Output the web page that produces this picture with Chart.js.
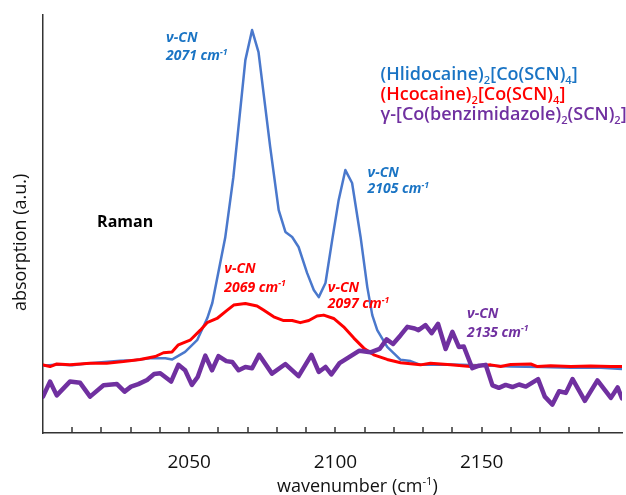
<!DOCTYPE html>
<html><head><meta charset="utf-8">
<script src="https://cdn.jsdelivr.net/npm/chart.js@4.4.0/dist/chart.umd.min.js"></script>
<style>html,body{margin:0;padding:0;background:#fff}</style>
</head><body>
<canvas id="c" width="626" height="495"></canvas>
<script>
// ---- data (wavenumber cm-1, absorption a.u.) ----
const wnBlue = [2000,2005,2010,2015,2020,2026.4,2031,2036.6,2041.8,2044.2,2048.6,2052.7,2056.2,2057.9,2062.3,2065.1,2069.2,2071.5,2073.7,2077.7,2080.6,2082.9,2085.2,2087.4,2090.3,2092.6,2094.3,2096.6,2098.9,2101.1,2103.4,2105.7,2108.6,2110.9,2112.6,2114.3,2117.7,2122.3,2125.7,2129.1,2139.4,2149.7,2159.9,2170.2,2180.5,2190.8,2198];
const absBlue = [16.1,16.4,16.2,16.6,16.9,17.3,17.4,17.9,17.9,17.6,19.4,22.2,27.5,31.1,46.7,61.2,89.2,96.4,91.1,68.4,53.3,48.1,46.9,44.5,38.3,34.2,32.5,35.9,46.2,55.7,62.9,59.8,46.9,34.9,28.2,24.6,20.6,17.5,17.2,16.3,16.4,16.2,15.9,15.8,15.6,15.6,15.3];

const wnRed = [2000,2002.4,2004.7,2009.2,2016.1,2021.8,2027.5,2033.2,2038.4,2041.2,2044.1,2046.3,2050.3,2053.8,2056.1,2059.5,2062.7,2065.2,2069.2,2073.2,2075.4,2078.9,2082.3,2085.2,2088.0,2090.9,2093.7,2096.0,2099.4,2102.8,2106.3,2109.7,2113.1,2117.7,2122.3,2129.1,2132.5,2139.4,2146.2,2153.1,2156.5,2159.9,2166.8,2169.1,2173.6,2180.5,2187.3,2194.2,2198];
const absRed = [16.3,15.9,16.5,16.3,16.7,16.7,17.1,17.6,18.3,19.2,19.4,21.1,22.2,24.6,26.4,27.4,29.2,30.6,31.0,30.4,29.4,27.8,26.9,26.9,26.4,26.9,28.0,28.2,27.4,25.4,22.7,20.3,18.7,17.6,16.8,16.3,16.7,16.3,15.9,16.3,15.9,16.4,16.5,15.9,16.1,15.9,16.0,15.9,15.9];

const wnPurple = [2000,2002.4,2004.7,2009.2,2012.7,2016.1,2020.7,2025.3,2027.9,2030.1,2032.6,2035.6,2038.0,2040.1,2043.8,2046.3,2048.6,2050.9,2052.9,2055.5,2057.8,2060.0,2062.7,2064.7,2066.9,2069.2,2071.5,2073.9,2078.3,2082.9,2087.4,2091.8,2094.3,2096.6,2098.6,2101.4,2104.8,2108.2,2112.0,2115.1,2117.5,2119.7,2122.3,2124.6,2127.1,2128.4,2130.8,2132.9,2135.1,2137.7,2140.0,2142.2,2143.9,2146.8,2149.1,2151.4,2153.7,2155.9,2158.2,2160.5,2162.8,2165.1,2169.3,2171.6,2174.2,2176.5,2178.8,2181.1,2185.3,2189.6,2194.2,2196.5,2198];
const absPurple = [8.7,12.3,9.0,12.3,12.0,8.7,11.4,11.7,9.9,11.1,11.7,12.7,14.1,14.3,12.3,16.3,15.0,11.5,13.4,18.5,15.0,18.4,17.2,17.0,15.0,15.8,15.5,18.7,14.2,16.5,13.6,18.7,14.6,15.8,14.0,16.7,18.2,19.7,19.3,20.1,22.4,21.3,23.4,25.4,25.0,24.6,25.8,23.9,26.1,20.1,24.2,20.6,20.7,15.5,16.1,16.3,11.4,10.8,11.5,11.0,11.6,11.1,12.9,8.7,6.8,10.0,9.6,12.9,7.7,12.6,8.4,10.9,8.3];

const seriesNames = ['(Hlidocaine)2[Co(SCN)4]','(Hcocaine)2[Co(SCN)4]','γ-[Co(benzimidazole)2(SCN)2]'];
const xTickLabels = [2050, 2100, 2150];

const pts = (xs, ys) => xs.map((x, i) => ({x, y: ys[i]}));

// ---- text annotations (anchored in data coordinates) ----
const C_BLUE_T = '#1a74c4', C_RED = '#ff0000', C_PURPLE = '#7030a0';
const notes = [
  {x:2042.1, y:94.7, dy:18, color:C_BLUE_T, lines:[[['ν-CN']],[['2071 cm'],['-1','sup']]]},
  {x:2111.0, y:62.4, dy:16, color:C_BLUE_T, lines:[[['ν-CN']],[['2105 cm'],['-1','sup']]]},
  {x:2062.0, y:39.5, dy:19, color:C_RED, lines:[[['ν-CN']],[['2069 cm'],['-1','sup']]]},
  {x:2097.4, y:34.9, dy:16, color:C_RED, lines:[[['ν-CN']],[['2097 cm'],['-1','sup']]]},
  {x:2145.0, y:28.7, dy:19, color:C_PURPLE, lines:[[['ν-CN']],[['2135 cm'],['-1','sup']]]}
];
const legendRows = [
  {color:'#1a74c4', segs:[['(Hlidocaine)'],['2','sub'],['[Co(SCN)'],['4','sub'],[']']]},
  {color:C_RED, segs:[['(Hcocaine)'],['2','sub'],['[Co(SCN)'],['4','sub'],[']']]},
  {color:C_PURPLE, segs:[['γ-[Co(benzimidazole)'],['2','sub'],['(SCN)'],['2','sub'],[']']]}
];

function drawRich(ctx, segs, x, y, size, weight, style, align) {
  const fam = '"Open Sans", "DejaVu Sans", sans-serif';
  const f = (s) => `${style} ${weight} ${s}px ${fam}`;
  let total = 0;
  segs.forEach(([t, m]) => { ctx.font = f(m ? size * 0.62 : size); total += ctx.measureText(t).width; });
  let cx = align === 'center' ? x - total / 2 : x;
  ctx.textAlign = 'left';
  ctx.textBaseline = 'alphabetic';
  segs.forEach(([t, m]) => {
    const s = m ? size * 0.62 : size;
    ctx.font = f(s);
    const off = m === 'sub' ? size * 0.22 : (m === 'sup' ? -size * 0.4 : 0);
    ctx.fillText(t, cx, y + off);
    cx += ctx.measureText(t).width;
  });
}

const textPlugin = {
  id: 'texts',
  afterDraw(chart) {
    const {ctx, scales: {x, y}, chartArea} = chart;
    ctx.save();
    // inward tick marks
    ctx.strokeStyle = '#333'; ctx.lineWidth = 1.5;
    x.ticks.forEach(t => {
      if (t.value <= x.min + 0.5 || t.value >= x.max - 0.5) return;
      const px = Math.round(x.getPixelForValue(t.value));
      ctx.beginPath(); ctx.moveTo(px, chartArea.bottom); ctx.lineTo(px, chartArea.bottom - 6); ctx.stroke();
    });
    // peak annotations
    notes.forEach(n => {
      ctx.fillStyle = n.color;
      const px = x.getPixelForValue(n.x), py = y.getPixelForValue(n.y);
      n.lines.forEach((ln, i) => drawRich(ctx, ln, px, py + 5 + i * n.dy, 14, 'bold', 'italic', 'left'));
    });
    // Raman
    ctx.fillStyle = '#000';
    drawRich(ctx, [['Raman']], x.getPixelForValue(2018.5), y.getPixelForValue(50.7) + 6, 16, 'bold', 'normal', 'left');
    // series labels
    legendRows.forEach((r, i) => {
      ctx.fillStyle = r.color;
      drawRich(ctx, r.segs, x.getPixelForValue(2115.4), y.getPixelForValue(85.9) + 6 + i * 20, 18, '600', 'normal', 'left');
    });
    // axis titles
    ctx.fillStyle = '#111';
    drawRich(ctx, [['wavenumber (cm'], ['-1','sup'], [')']], x.getPixelForValue(2107.5), chartArea.bottom + 59, 18, 'normal', 'normal', 'center');
    ctx.translate(26, y.getPixelForValue(45.6));
    ctx.rotate(-Math.PI / 2);
    drawRich(ctx, [['absorption (a.u.)']], 0, 0, 18, 'normal', 'normal', 'center');
    ctx.restore();
  }
};

new Chart(document.getElementById('c'), {
  type: 'line',
  data: {
    datasets: [
      {label: seriesNames[0], data: pts(wnBlue, absBlue), borderColor: '#4a78cc', borderWidth: 2.5, order: 3},
      {label: seriesNames[1], data: pts(wnRed, absRed), borderColor: '#ff0000', borderWidth: 3, order: 2},
      {label: seriesNames[2], data: pts(wnPurple, absPurple), borderColor: '#7030a0', borderWidth: 4.5, order: 1}
    ]
  },
  options: {
    responsive: false,
    animation: false,
    layout: {padding: {top: 15, right: 4, left: 0, bottom: 0}},
    elements: {point: {radius: 0}, line: {tension: 0, fill: false, borderJoinStyle: 'round', borderCapStyle: 'round'}},
    plugins: {legend: {display: false}, tooltip: {enabled: false}},
    scales: {
      x: {
        type: 'linear', min: 2000, max: 2198,
        afterFit: s => { s.height = 62; },
        grid: {display: true, drawOnChartArea: false, drawTicks: false},
        border: {display: true, color: '#333', width: 1.5},
        ticks: {
          stepSize: 10, includeBounds: false, autoSkip: false, maxRotation: 0,
          padding: 18, color: '#111',
          font: {family: '"Open Sans", sans-serif', size: 19},
          callback: v => xTickLabels.includes(v) ? String(v) : ''
        }
      },
      y: {
        min: 0, max: 100,
        afterFit: s => { s.width = 43; },
        grid: {display: true, drawOnChartArea: false, drawTicks: false},
        border: {display: true, color: '#333', width: 1.5},
        ticks: {display: false}
      }
    }
  },
  plugins: [textPlugin]
});
</script>
</body></html>
